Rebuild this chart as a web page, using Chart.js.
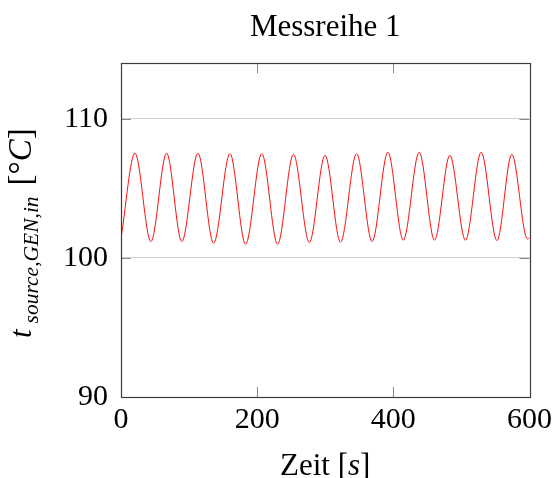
<!DOCTYPE html>
<html>
<head>
<meta charset="utf-8">
<script src="https://cdn.jsdelivr.net/npm/chart.js@4"></script>
<style>
  html, body { margin: 0; padding: 0; background: #fff; }
  #wrap { width: 557px; height: 478px; }
</style>
</head>
<body>
<div id="wrap"><canvas id="c" width="557" height="478"></canvas></div>
<script>
// Data (peaks and troughs of the oscillation)
const timeS = [0, 20.5, 43.9, 67, 89.3, 113, 136, 160, 183, 206.8, 230, 253.3, 276.6, 299.7, 322.4, 346, 368.8, 392, 414.6, 438, 460.5, 483, 505.9, 529, 552.2, 574, 597, 600];
const tempC = [101.4, 107.53, 101.17, 107.53, 101.17, 107.53, 101.05, 107.5, 100.98, 107.5, 100.98, 107.45, 101.1, 107.38, 101.12, 107.5, 101.17, 107.6, 101.27, 107.6, 101.27, 107.38, 101.27, 107.6, 101.25, 107.45, 101.35, 101.45];
const xTicks = [0, 200, 400, 600];
const yTicks = [90, 100, 110];
const titleText = 'Messreihe 1';

const SERIF = '"Liberation Serif", "DejaVu Serif", serif';

const framePlugin = {
  id: 'frame',
  afterDraw(chart) {
    const ctx = chart.ctx;
    const a = chart.chartArea;
    const xs = chart.scales.x, ys = chart.scales.y;
    ctx.save();
    // tick marks
    ctx.strokeStyle = '#8a8a8a';
    ctx.lineWidth = 1;
    ctx.beginPath();
    xTicks.slice(1, -1).forEach(v => {
      const px = Math.round(xs.getPixelForValue(v)) + 0.5;
      ctx.moveTo(px, a.bottom); ctx.lineTo(px, a.bottom - 10);
      ctx.moveTo(px, a.top); ctx.lineTo(px, a.top + 10);
    });
    yTicks.slice(1).forEach(v => {
      const py = Math.round(ys.getPixelForValue(v)) + 0.5;
      ctx.moveTo(a.left, py); ctx.lineTo(a.left + 10, py);
      ctx.moveTo(a.right, py); ctx.lineTo(a.right - 10, py);
    });
    ctx.stroke();
    // frame
    ctx.strokeStyle = '#3c3c3c';
    ctx.lineWidth = 1.2;
    ctx.strokeRect(Math.round(a.left) + 0.5, Math.round(a.top) + 0.5,
                   Math.round(a.right - a.left), Math.round(a.bottom - a.top));

    // x axis title: Zeit [s]
    ctx.fillStyle = '#000';
    ctx.textBaseline = 'alphabetic';
    const xRuns = [
      { t: 'Zeit [', f: '31px ' + SERIF, dy: 0 },
      { t: 's', f: 'italic 31px ' + SERIF, dy: 0 },
      { t: ']', f: '31px ' + SERIF, dy: 0 }
    ];
    drawRuns(ctx, xRuns, (a.left + a.right) / 2, 475, 0);

    // y axis title: t_{source,GEN,in} [°C]
    const yRuns = [
      { t: 't', f: 'italic 31px ' + SERIF, dy: 0 },
      { t: '', f: '30px ' + SERIF, dy: 0, gap: 6 },
      { t: 'source,GEN,in', f: 'italic 21.5px ' + SERIF, dy: 7 },
      { t: '', f: '30px ' + SERIF, dy: 0, gap: 11 },
      { t: '[°', f: '33px ' + SERIF, dy: 0 },
      { t: 'C', f: 'italic 33px ' + SERIF, dy: 0 },
      { t: ']', f: '33px ' + SERIF, dy: 0 }
    ];
    drawRuns(ctx, yRuns, 31, (a.top + a.bottom) / 2 + 3, -Math.PI / 2);
    ctx.restore();
  }
};

function drawRuns(ctx, runs, cx, cy, rot) {
  ctx.save();
  ctx.translate(cx, cy);
  ctx.rotate(rot);
  let total = 0;
  runs.forEach(r => { ctx.font = r.f; r.w = r.gap ? r.gap : ctx.measureText(r.t).width; total += r.w; });
  let x = -total / 2;
  ctx.textAlign = 'left';
  runs.forEach(r => {
    ctx.font = r.f;
    if (r.t) ctx.fillText(r.t, x, r.dy);
    x += r.w;
  });
  ctx.restore();
}

new Chart(document.getElementById('c'), {
  type: 'line',
  data: {
    datasets: [{
      data: timeS.map((t, i) => ({ x: t, y: tempC[i] })),
      borderColor: '#ff1010',
      borderWidth: 1,
      pointRadius: 0,
      fill: false,
      cubicInterpolationMode: 'monotone'
    }]
  },
  options: {
    responsive: false,
    animation: false,
    devicePixelRatio: 1,
    layout: { padding: { left: 0, right: 26, top: 0, bottom: 0 } },
    plugins: {
      legend: { display: false },
      tooltip: { enabled: false },
      title: {
        display: true,
        text: titleText,
        fullSize: false,
        color: '#000',
        font: { family: SERIF, size: 31, weight: 'normal', lineHeight: 1.2 },
        padding: { top: 9, bottom: 17 }
      }
    },
    scales: {
      x: {
        type: 'linear',
        min: 0, max: 600,
        afterBuildTicks: s => { s.ticks = xTicks.map(v => ({ value: v })); },
        afterFit: s => { s.height = 81; },
        grid: { display: false, drawTicks: false },
        border: { display: false },
        ticks: { color: '#000', font: { family: SERIF, size: 30 }, padding: 5, maxRotation: 0 }
      },
      y: {
        type: 'linear',
        min: 90, max: 114,
        afterBuildTicks: s => { s.ticks = yTicks.map(v => ({ value: v })); },
        afterFit: s => { s.width = 121; },
        grid: { color: '#cfcfcf', lineWidth: 1, drawTicks: false },
        border: { display: false },
        ticks: { color: '#000', font: { family: SERIF, size: 30 }, padding: 13 }
      }
    }
  },
  plugins: [framePlugin]
});
</script>
</body>
</html>
